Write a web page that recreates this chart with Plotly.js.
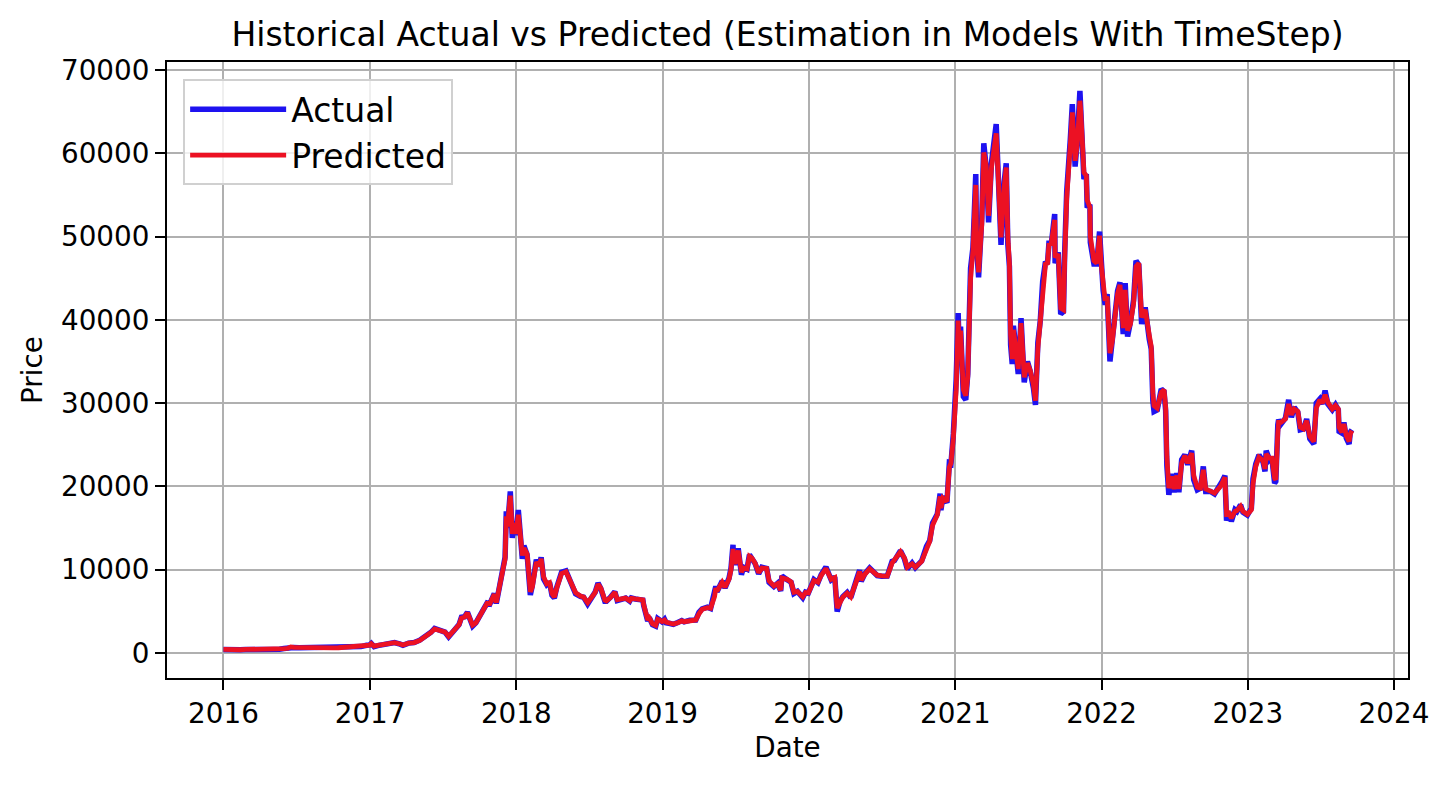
<!DOCTYPE html>
<html>
<head>
<meta charset="utf-8">
<script src="https://cdn.plot.ly/plotly-3.0.1.min.js"></script>
<style>html,body{margin:0;padding:0;background:#fff;}#chart{width:1443px;height:785px;}</style>
</head>
<body>
<div id="chart"></div>
<script>
const dates2016 = ['2016-01-01','2016-01-15','2016-01-29','2016-02-12','2016-02-26','2016-03-11','2016-03-25','2016-04-08','2016-04-22','2016-05-06','2016-05-20','2016-05-31','2016-06-10','2016-06-17','2016-06-24','2016-07-08','2016-07-22','2016-08-05','2016-08-19','2016-09-02','2016-09-16','2016-09-30','2016-10-14','2016-10-28','2016-11-11','2016-11-25','2016-12-09','2016-12-23','2016-12-31'];
const actual2016 = [434,375,378,384,432,419,417,421,450,459,442,531,578,760,665,640,651,575,574,575,607,609,638,689,715,740,770,921,963];
const predicted2016 = [440,392,381,389,425,421,415,423,446,457,447,518,570,735,672,645,648,582,577,573,603,611,634,683,712,736,768,905,948];

const dates2017 = ['2017-01-04','2017-01-11','2017-01-20','2017-02-03','2017-02-17','2017-03-03','2017-03-17','2017-03-24','2017-04-07','2017-04-21','2017-05-05','2017-05-19','2017-05-25','2017-06-02','2017-06-11','2017-06-23','2017-07-07','2017-07-16','2017-07-28','2017-08-11','2017-08-17','2017-08-25','2017-09-01','2017-09-14','2017-09-22','2017-10-01','2017-10-13','2017-10-20','2017-10-27','2017-11-07','2017-11-12','2017-11-19','2017-11-28','2017-12-04','2017-12-07','2017-12-10','2017-12-17','2017-12-22','2017-12-27','2017-12-31'];
const actual2017 = [1154,777,894,1013,1055,1260,1070,937,1190,1250,1540,1960,2300,2490,2960,2710,2510,1930,2700,3420,4290,4350,4890,3240,3630,4400,5640,6000,5900,7140,5950,8040,9900,11500,17000,15000,19400,13830,15800,14160];
const predicted2017 = [1120,820,905,1005,1060,1240,1085,960,1175,1255,1510,1930,2260,2480,2900,2720,2520,2010,2660,3380,4200,4330,4820,3340,3610,4370,5580,5960,5920,7050,6050,7950,9750,11300,16400,15200,18900,14300,15600,14300];

const dates2018 = ['2018-01-06','2018-01-10','2018-01-16','2018-01-20','2018-01-28','2018-02-05','2018-02-10','2018-02-20','2018-02-27','2018-03-04','2018-03-10','2018-03-18','2018-03-25','2018-03-31','2018-04-06','2018-04-12','2018-04-24','2018-05-05','2018-05-15','2018-05-29','2018-06-10','2018-06-18','2018-06-28','2018-07-08','2018-07-17','2018-07-24','2018-07-31','2018-08-10','2018-08-14','2018-08-24','2018-09-04','2018-09-10','2018-09-20','2018-10-01','2018-10-11','2018-10-15','2018-10-25','2018-11-05','2018-11-13','2018-11-15','2018-11-20','2018-11-25','2018-11-29','2018-12-07','2018-12-15','2018-12-20','2018-12-24','2018-12-31'];
const actual2018 = [17170,14600,11300,12900,11800,6960,8100,11200,10400,11500,8900,8200,8500,6930,6600,7900,9700,9860,8690,7120,6790,6700,5890,6750,7330,8400,7730,6200,6200,6690,7370,6300,6500,6600,6240,6600,6480,6410,6350,5700,4450,3850,4260,3400,3230,4140,4000,3740];
const predicted2018 = [16600,15000,11700,12600,11900,7350,7950,10900,10500,11300,9150,8300,8450,7150,6700,7800,9550,9750,8800,7250,6850,6720,6050,6700,7280,8250,7800,6350,6250,6650,7300,6400,6480,6590,6290,6570,6490,6420,6370,5800,4650,3980,4200,3500,3310,4050,3980,3780];

const dates2019 = ['2019-01-06','2019-01-10','2019-01-20','2019-01-28','2019-02-08','2019-02-18','2019-02-24','2019-03-10','2019-03-25','2019-04-02','2019-04-10','2019-04-23','2019-05-01','2019-05-11','2019-05-14','2019-05-17','2019-05-30','2019-06-06','2019-06-16','2019-06-21','2019-06-26','2019-06-27','2019-07-01','2019-07-09','2019-07-17','2019-07-22','2019-07-31','2019-08-06','2019-08-12','2019-08-20','2019-08-29','2019-09-06','2019-09-18','2019-09-24','2019-10-06','2019-10-15','2019-10-23','2019-10-26','2019-11-08','2019-11-18','2019-11-25','2019-12-04','2019-12-17','2019-12-24','2019-12-31'];
const actual2019 = [4040,3630,3540,3440,3660,3900,3740,3930,3960,4880,5300,5500,5350,6990,8000,7360,8660,7800,8990,10200,13000,11170,10600,12570,9400,10300,10080,11800,11380,10760,9500,10300,10160,8500,7990,8370,7440,9250,8800,8500,7150,7400,6640,7320,7200];
const predicted2019 = [3950,3720,3580,3480,3620,3860,3760,3910,3970,4700,5250,5450,5380,6800,7800,7450,8500,7900,8850,10000,12500,11400,10700,12300,9700,10200,10100,11600,11400,10800,9650,10200,10150,8650,8050,8330,7550,9000,8850,8520,7300,7380,6750,7250,7210];

const dates2020 = ['2020-01-07','2020-01-14','2020-01-24','2020-02-01','2020-02-13','2020-02-19','2020-02-26','2020-03-06','2020-03-12','2020-03-19','2020-03-26','2020-04-06','2020-04-15','2020-04-29','2020-05-07','2020-05-11','2020-05-20','2020-06-01','2020-06-10','2020-06-20','2020-07-01','2020-07-15','2020-07-27','2020-08-02','2020-08-17','2020-08-27','2020-09-03','2020-09-15','2020-09-23','2020-10-09','2020-10-21','2020-10-29','2020-11-05','2020-11-17','2020-11-24','2020-11-26','2020-12-01','2020-12-11','2020-12-17','2020-12-21','2020-12-27','2020-12-31'];
const actual2020 = [8160,8810,8450,9390,10330,9600,8780,9120,4970,6190,6760,7270,6640,8800,9950,8600,9520,10200,9770,9300,9230,9240,11000,11100,12300,11300,10100,10800,10240,11060,12800,13500,15600,16700,19150,17150,18800,18040,22800,22700,26300,29000];
const predicted2020 = [7950,8700,8500,9300,10150,9650,8850,9050,5400,6050,6700,7200,6750,8600,9800,8750,9450,10100,9800,9350,9250,9230,10800,11150,12150,11400,10300,10700,10300,11000,12600,13400,15300,16600,18800,17400,18600,18200,22300,22800,25800,28400];

const dates2021 = ['2021-01-03','2021-01-08','2021-01-11','2021-01-14','2021-01-21','2021-01-27','2021-02-01','2021-02-08','2021-02-14','2021-02-21','2021-02-23','2021-02-28','2021-03-08','2021-03-13','2021-03-19','2021-03-25','2021-04-01','2021-04-13','2021-04-18','2021-04-25','2021-05-03','2021-05-08','2021-05-12','2021-05-16','2021-05-19','2021-05-23','2021-05-26','2021-06-01','2021-06-07','2021-06-14','2021-06-18','2021-06-22','2021-06-30','2021-07-07','2021-07-15','2021-07-20','2021-07-26','2021-08-01','2021-08-07','2021-08-14','2021-08-19','2021-08-23','2021-08-28','2021-09-06','2021-09-07','2021-09-15','2021-09-21','2021-09-28','2021-10-01','2021-10-06','2021-10-15','2021-10-20','2021-10-27','2021-11-01','2021-11-08','2021-11-10','2021-11-18','2021-11-24','2021-11-26','2021-12-03','2021-12-04','2021-12-13','2021-12-20','2021-12-27','2021-12-31'];
const actual2021 = [32800,40800,35600,39200,30800,30400,33500,46200,48700,57500,48800,45100,52200,61200,58300,51700,58800,63500,56200,49000,56600,58800,49100,46400,37000,34700,39300,36700,33500,40200,35800,32500,35000,33800,31800,29800,37300,39900,44600,47000,46700,49500,48900,52700,46800,48100,40700,41000,48200,55400,61700,65900,58400,61300,67500,64900,56900,57500,53700,53600,49300,46700,46700,50600,46300];
const predicted2021 = [31500,39900,36200,38700,31600,30900,33200,45000,48300,56200,49600,45700,51500,60100,58500,52500,58200,62400,56800,49900,56000,58300,50000,46800,38200,35300,38800,36900,34100,39600,36200,33100,34800,33900,32200,30300,36600,39700,44200,46700,46800,49200,49000,52000,47500,47900,41400,41200,47300,54600,61000,64900,59100,61000,66300,65100,57700,57300,54400,53500,50000,47100,46800,50100,46700];

const dates2022 = ['2022-01-05','2022-01-10','2022-01-15','2022-01-22','2022-01-28','2022-02-05','2022-02-10','2022-02-16','2022-02-24','2022-03-01','2022-03-07','2022-03-14','2022-03-22','2022-03-28','2022-04-04','2022-04-11','2022-04-20','2022-04-30','2022-05-05','2022-05-09','2022-05-12','2022-05-20','2022-05-30','2022-06-06','2022-06-10','2022-06-13','2022-06-18','2022-06-25','2022-07-01','2022-07-08','2022-07-13','2022-07-20','2022-07-28','2022-08-04','2022-08-14','2022-08-19','2022-08-28','2022-09-05','2022-09-12','2022-09-18','2022-09-30','2022-10-10','2022-10-25','2022-10-29','2022-11-05','2022-11-09','2022-11-15','2022-11-21','2022-11-30','2022-12-05','2022-12-14','2022-12-20','2022-12-31'];
const actual2022 = [43500,41800,43100,35000,37700,41400,43500,44500,38300,44400,38000,39700,42400,47100,46600,39500,41500,37700,36500,30300,29000,29200,31700,31400,29100,22500,19000,21500,19300,21600,19300,23200,23800,22600,24300,20800,19600,19800,22400,19400,19400,19100,20100,20600,21300,15900,16900,15800,17200,17000,17800,16900,16550];
const predicted2022 = [44000,42300,42800,36000,37500,40900,43100,44200,39000,43600,38700,39500,42000,46400,46800,40300,41200,38200,36800,31200,29700,29400,31300,31600,29500,23600,19800,21200,19700,21300,19700,22800,23700,22800,24000,21300,19900,19800,22000,19700,19500,19200,20000,20500,21100,16700,16800,16200,17000,17100,17600,17000,16650];

const dates2023 = ['2023-01-05','2023-01-10','2023-01-14','2023-01-21','2023-01-29','2023-02-08','2023-02-13','2023-02-16','2023-02-24','2023-03-02','2023-03-09','2023-03-12','2023-03-17','2023-03-19','2023-03-25','2023-04-05','2023-04-13','2023-04-20','2023-04-27','2023-05-06','2023-05-12','2023-05-20','2023-05-28','2023-06-05','2023-06-15','2023-06-21','2023-06-30','2023-07-06','2023-07-13','2023-07-20','2023-07-31','2023-08-08','2023-08-15','2023-08-17','2023-08-24','2023-08-29','2023-09-04','2023-09-11','2023-09-14','2023-09-18'];
const actual2023 = [16850,17400,20900,22700,23800,22960,21800,24300,23200,23500,20400,20600,27400,28000,27500,28200,30400,28300,29500,28900,26800,26900,28100,25700,25100,30000,30500,29900,31500,29900,29200,29800,29200,26600,26400,27700,25800,25100,26500,26800];
const predicted2023 = [16900,17200,20300,22400,23500,23100,22100,23900,23400,23400,21000,20800,26500,27700,27700,28100,29900,28600,29300,29000,27100,26900,27900,26000,25400,29400,30400,30000,31000,30100,29300,29700,29300,27100,26500,27500,26100,25400,26300,26700];

const yearTicks = ['2016','2017','2018','2019','2020','2021','2022','2023','2024'];

const dates = [].concat(dates2016, dates2017, dates2018, dates2019, dates2020, dates2021, dates2022, dates2023);
const actual = [].concat(actual2016, actual2017, actual2018, actual2019, actual2020, actual2021, actual2022, actual2023);
const predicted = [].concat(predicted2016, predicted2017, predicted2018, predicted2019, predicted2020, predicted2021, predicted2022, predicted2023);

const FONT = 'DejaVu Sans, Liberation Sans, sans-serif';

const traces = [
  {x: dates, y: actual, type: 'scatter', mode: 'lines', name: 'Actual',
   line: {color: 'rgb(30,18,240)', width: 5.5}},
  {x: dates, y: predicted, type: 'scatter', mode: 'lines', name: 'Predicted',
   line: {color: 'rgb(236,17,35)', width: 4.8}}
];

const axisCommon = {
  showline: true, mirror: true, linecolor: 'black', linewidth: 2,
  ticks: 'outside', ticklen: 10, tickwidth: 2, tickcolor: 'black',
  showgrid: true, gridcolor: '#b0b0b0', gridwidth: 2, zeroline: false,
  tickfont: {family: FONT, size: 27.8, color: 'black'}
};

const layout = {
  width: 1443, height: 785,
  paper_bgcolor: 'white', plot_bgcolor: 'white',
  margin: {l: 167, r: 35, t: 62, b: 107, pad: 0},
  font: {family: FONT, color: 'black'},
  title: {text: 'Historical Actual vs Predicted (Estimation in Models With TimeStep)',
          font: {family: FONT, size: 33, color: 'black'},
          xref: 'paper', x: 0.5, xanchor: 'center', yref: 'container', y: 0.956, yanchor: 'middle'},
  xaxis: Object.assign({}, axisCommon, {
    type: 'date', range: ['2015-08-13', '2024-02-05'],
    tickvals: yearTicks.map(y => y + '-01-01'), ticktext: yearTicks,
    ticklabelstandoff: 0,
    title: {text: 'Date', font: {family: FONT, size: 27.8, color: 'black'}, standoff: 8}
  }),
  yaxis: Object.assign({}, axisCommon, {
    range: [-3000, 70960], tickvals: [0,10000,20000,30000,40000,50000,60000,70000],
    tickformat: 'd', ticklabelstandoff: 0,
    title: {text: 'Price', font: {family: FONT, size: 27.8, color: 'black'}, standoff: 10}
  }),
  showlegend: true,
  legend: {x: 0.013, y: 0.972, xanchor: 'left', yanchor: 'top',
           bgcolor: 'rgba(255,255,255,0.8)', bordercolor: '#d0d0d0', borderwidth: 2,
           font: {family: FONT, size: 33, color: 'black'}, itemwidth: 96}
};

Plotly.newPlot('chart', traces, layout, {staticPlot: true, displayModeBar: false});
</script>
</body>
</html>
